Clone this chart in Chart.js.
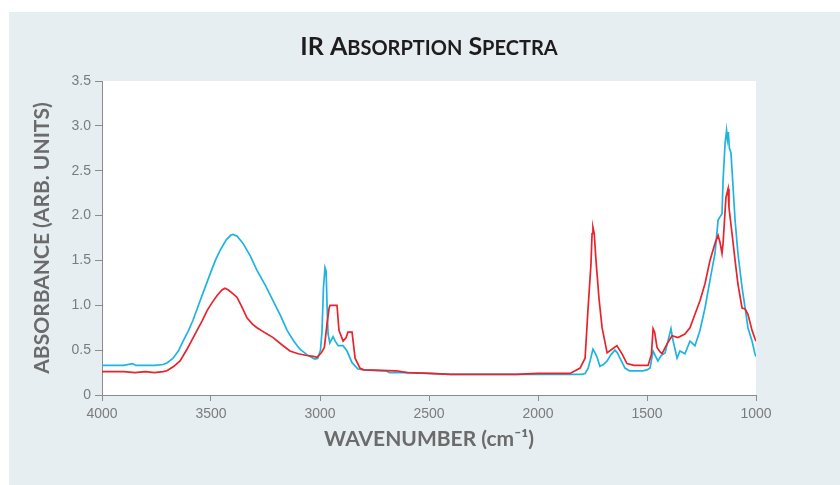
<!DOCTYPE html>
<html>
<head>
<meta charset="utf-8">
<script src="https://cdn.jsdelivr.net/npm/chart.js@4.4.1/dist/chart.umd.min.js"></script>
<style>
  html, body { margin: 0; padding: 0; background: #ffffff; }
  #wrap { position: relative; width: 840px; height: 485px; }
</style>
</head>
<body>
<div id="wrap"><canvas id="chart-ir" width="840" height="485"></canvas></div>
<script>
// ── Espectro azul ───────────────────────────────────────────────
var wnAzul = [4000, 3900, 3860, 3845, 3757, 3720, 3700, 3674, 3650, 3628, 3605, 3583, 3550, 3527, 3504,
    3480, 3459, 3430, 3410, 3399, 3380, 3353, 3320, 3289, 3250, 3215, 3180, 3151, 3120, 3092, 3060,
    3032, 3023, 3010, 2998, 2991, 2984, 2977, 2972, 2967, 2963, 2955, 2940, 2930, 2917, 2894, 2876,
    2853, 2826, 2800, 2700, 2680, 2600, 2500, 2400, 2300, 2200, 2100, 2000, 1900, 1800, 1784, 1770,
    1761, 1748, 1738, 1729, 1716, 1700, 1683, 1665, 1647, 1636, 1624, 1601, 1580, 1520, 1500, 1486,
    1472, 1462, 1450, 1435, 1417, 1404, 1390, 1380, 1362, 1349, 1326, 1303, 1280, 1257, 1234, 1211,
    1188, 1174, 1156, 1151, 1142, 1135, 1131, 1127, 1122, 1115, 1110, 1096, 1083, 1064, 1050, 1037,
    1018, 1005, 1000];
var absAzul = [0.33, 0.33, 0.35, 0.33, 0.33, 0.34, 0.36, 0.41, 0.49, 0.60, 0.71, 0.83, 1.05, 1.20, 1.35,
    1.50, 1.61, 1.73, 1.78, 1.79, 1.77, 1.69, 1.55, 1.39, 1.22, 1.05, 0.88, 0.72, 0.60, 0.51, 0.45,
    0.41, 0.40, 0.41, 0.50, 0.70, 1.20, 1.42, 1.38, 0.95, 0.68, 0.58, 0.65, 0.60, 0.55, 0.55, 0.49,
    0.36, 0.29, 0.28, 0.27, 0.25, 0.25, 0.24, 0.23, 0.23, 0.23, 0.23, 0.23, 0.23, 0.23, 0.24, 0.30,
    0.38, 0.51, 0.47, 0.42, 0.32, 0.34, 0.38, 0.45, 0.50, 0.47, 0.41, 0.30, 0.27, 0.27, 0.28, 0.30,
    0.49, 0.44, 0.38, 0.44, 0.47, 0.60, 0.74, 0.60, 0.41, 0.49, 0.46, 0.60, 0.55, 0.72, 0.97, 1.28,
    1.58, 1.95, 2.02, 2.39, 2.80, 2.95, 2.85, 2.93, 2.75, 2.70, 2.51, 1.95, 1.58, 1.20, 0.97, 0.75,
    0.60, 0.46, 0.43];

// ── Espectro rojo ───────────────────────────────────────────────
var wnRojo = [4000, 3900, 3850, 3800, 3760, 3720, 3702, 3670, 3642, 3610, 3590, 3564, 3540, 3518, 3495,
    3472, 3450, 3436, 3420, 3400, 3381, 3360, 3335, 3310, 3289, 3250, 3215, 3175, 3138, 3100, 3060,
    3030, 3014, 2994, 2980, 2968, 2958, 2954, 2935, 2922, 2913, 2894, 2880, 2872, 2853, 2839, 2817,
    2800, 2650, 2600, 2500, 2400, 2300, 2200, 2100, 2000, 1900, 1853, 1830, 1807, 1784, 1771, 1757,
    1752, 1748, 1742, 1734, 1720, 1706, 1683, 1661, 1638, 1615, 1592, 1560, 1495, 1480, 1472, 1465,
    1454, 1440, 1431, 1408, 1385, 1358, 1326, 1303, 1280, 1257, 1234, 1211, 1188, 1174, 1165, 1156,
    1151, 1138, 1128, 1124, 1110, 1096, 1083, 1064, 1050, 1037, 1018, 1005, 1000];
var absRojo = [0.26, 0.26, 0.25, 0.26, 0.25, 0.26, 0.27, 0.32, 0.38, 0.51, 0.60, 0.72, 0.83, 0.94, 1.03,
    1.11, 1.17, 1.19, 1.17, 1.13, 1.09, 0.99, 0.86, 0.79, 0.75, 0.69, 0.64, 0.56, 0.49, 0.46, 0.44,
    0.43, 0.42, 0.47, 0.53, 0.79, 0.97, 1.00, 1.00, 1.00, 0.72, 0.60, 0.64, 0.70, 0.70, 0.41, 0.30,
    0.28, 0.27, 0.25, 0.24, 0.23, 0.23, 0.23, 0.23, 0.24, 0.24, 0.24, 0.27, 0.30, 0.41, 0.94, 1.46,
    1.80, 1.87, 1.80, 1.50, 1.07, 0.75, 0.47, 0.51, 0.55, 0.46, 0.35, 0.33, 0.33, 0.45, 0.74, 0.70,
    0.53, 0.48, 0.46, 0.57, 0.66, 0.64, 0.68, 0.75, 0.90, 1.05, 1.24, 1.50, 1.69, 1.78, 1.70, 1.58,
    1.69, 2.20, 2.30, 2.09, 1.80, 1.50, 1.24, 0.97, 0.96, 0.90, 0.72, 0.63, 0.60];

// ── Ejes ────────────────────────────────────────────────────────
var ticksX = [4000, 3500, 3000, 2500, 2000, 1500, 1000];
var ticksY = ['0', '0.5', '1.0', '1.5', '2.0', '2.5', '3.0', '3.5'];

var FONDO  = '#e7eef1';
var GRIS   = '#8c8c8c';
var TITULO = ['IR A', 'BSORPTION', ' S', 'PECTRA'];

function _irPuntos(xs, ys) {
    return xs.map(function(x, i) { return { x: x, y: ys[i] }; });
}

// Panel de fondo + área blanca + título en versalitas
var fondoPlugin = {
    id: 'fondoIR',
    beforeDraw: function(chart) {
        var ctx = chart.ctx, a = chart.chartArea;
        ctx.save();
        ctx.fillStyle = FONDO;
        ctx.fillRect(9, 12, chart.width - 9, chart.height - 12);
        ctx.fillStyle = '#ffffff';
        ctx.fillRect(a.left, a.top, a.right - a.left, a.bottom - a.top);
        ctx.restore();
    },
    afterDraw: function(chart) {
        var ctx = chart.ctx, a = chart.chartArea;
        ctx.save();
        ctx.fillStyle = '#1f1c1d';
        ctx.textBaseline = 'alphabetic';
        var tam = function(i) { return i % 2 === 0 ? 25 : 20; };
        var total = 0;
        TITULO.forEach(function(t, i) {
            ctx.font = 'bold ' + tam(i) + 'px Lato, "Noto Sans", sans-serif';
            total += ctx.measureText(t).width;
        });
        var x = (a.left + a.right) / 2 - total / 2;
        TITULO.forEach(function(t, i) {
            ctx.font = 'bold ' + tam(i) + 'px Lato, "Noto Sans", sans-serif';
            ctx.fillText(t, x, 55);
            x += ctx.measureText(t).width;
        });
        ctx.restore();
    }
};

window._irChart = new Chart(document.getElementById('chart-ir'), {
    type: 'line',
    data: {
        datasets: [{
            label: 'Rojo',
            data: _irPuntos(wnRojo, absRojo),
            borderColor: '#e8232b',
            borderWidth: 1.7,
            pointRadius: 0,
            tension: 0,
            order: 0
        }, {
            label: 'Azul',
            data: _irPuntos(wnAzul, absAzul),
            borderColor: '#1fb3e2',
            borderWidth: 1.7,
            pointRadius: 0,
            tension: 0,
            order: 1
        }]
    },
    options: {
        responsive: false,
        animation: false,
        layout: { padding: { left: 0, right: 84, top: 81, bottom: 0 } },
        plugins: { legend: { display: false }, tooltip: { enabled: false } },
        scales: {
            x: {
                type: 'linear',
                min: 1000, max: 4000,
                reverse: true,
                afterFit: function(s) { s.height = 90; },
                afterBuildTicks: function(s) { s.ticks = ticksX.map(function(v) { return { value: v }; }); },
                grid: { drawOnChartArea: false, tickLength: 6, tickColor: GRIS },
                border: { color: GRIS, width: 1 },
                ticks: {
                    color: '#7b7b7b',
                    padding: 5,
                    maxRotation: 0,
                    font: { family: '"Liberation Sans Narrow", "Liberation Sans", sans-serif', size: 14 },
                    callback: function(v) { return String(v); }
                },
                title: {
                    display: true,
                    text: 'WAVENUMBER (cm⁻¹)',
                    color: '#6b6b6b',
                    font: { family: 'Lato, "Noto Sans", sans-serif', size: 21, weight: 'bold' },
                    padding: { top: 0, bottom: 33 }
                }
            },
            y: {
                min: 0, max: 3.5,
                afterFit: function(s) { s.width = 102; },
                grid: { drawOnChartArea: false, tickLength: 7, tickColor: GRIS },
                border: { color: GRIS, width: 1 },
                ticks: {
                    stepSize: 0.5,
                    color: '#7b7b7b',
                    padding: 4,
                    font: { family: '"Liberation Sans", sans-serif', size: 14 },
                    callback: function(v) { return ticksY[Math.round(v * 2)]; }
                },
                title: {
                    display: true,
                    text: 'ABSORBANCE (ARB. UNITS)',
                    color: '#6b6b6b',
                    font: { family: 'Lato, "Noto Sans", sans-serif', size: 21, weight: 'bold' },
                    padding: { top: 30, bottom: 0 }
                }
            }
        }
    },
    plugins: [fondoPlugin]
});
</script>
</body>
</html>
